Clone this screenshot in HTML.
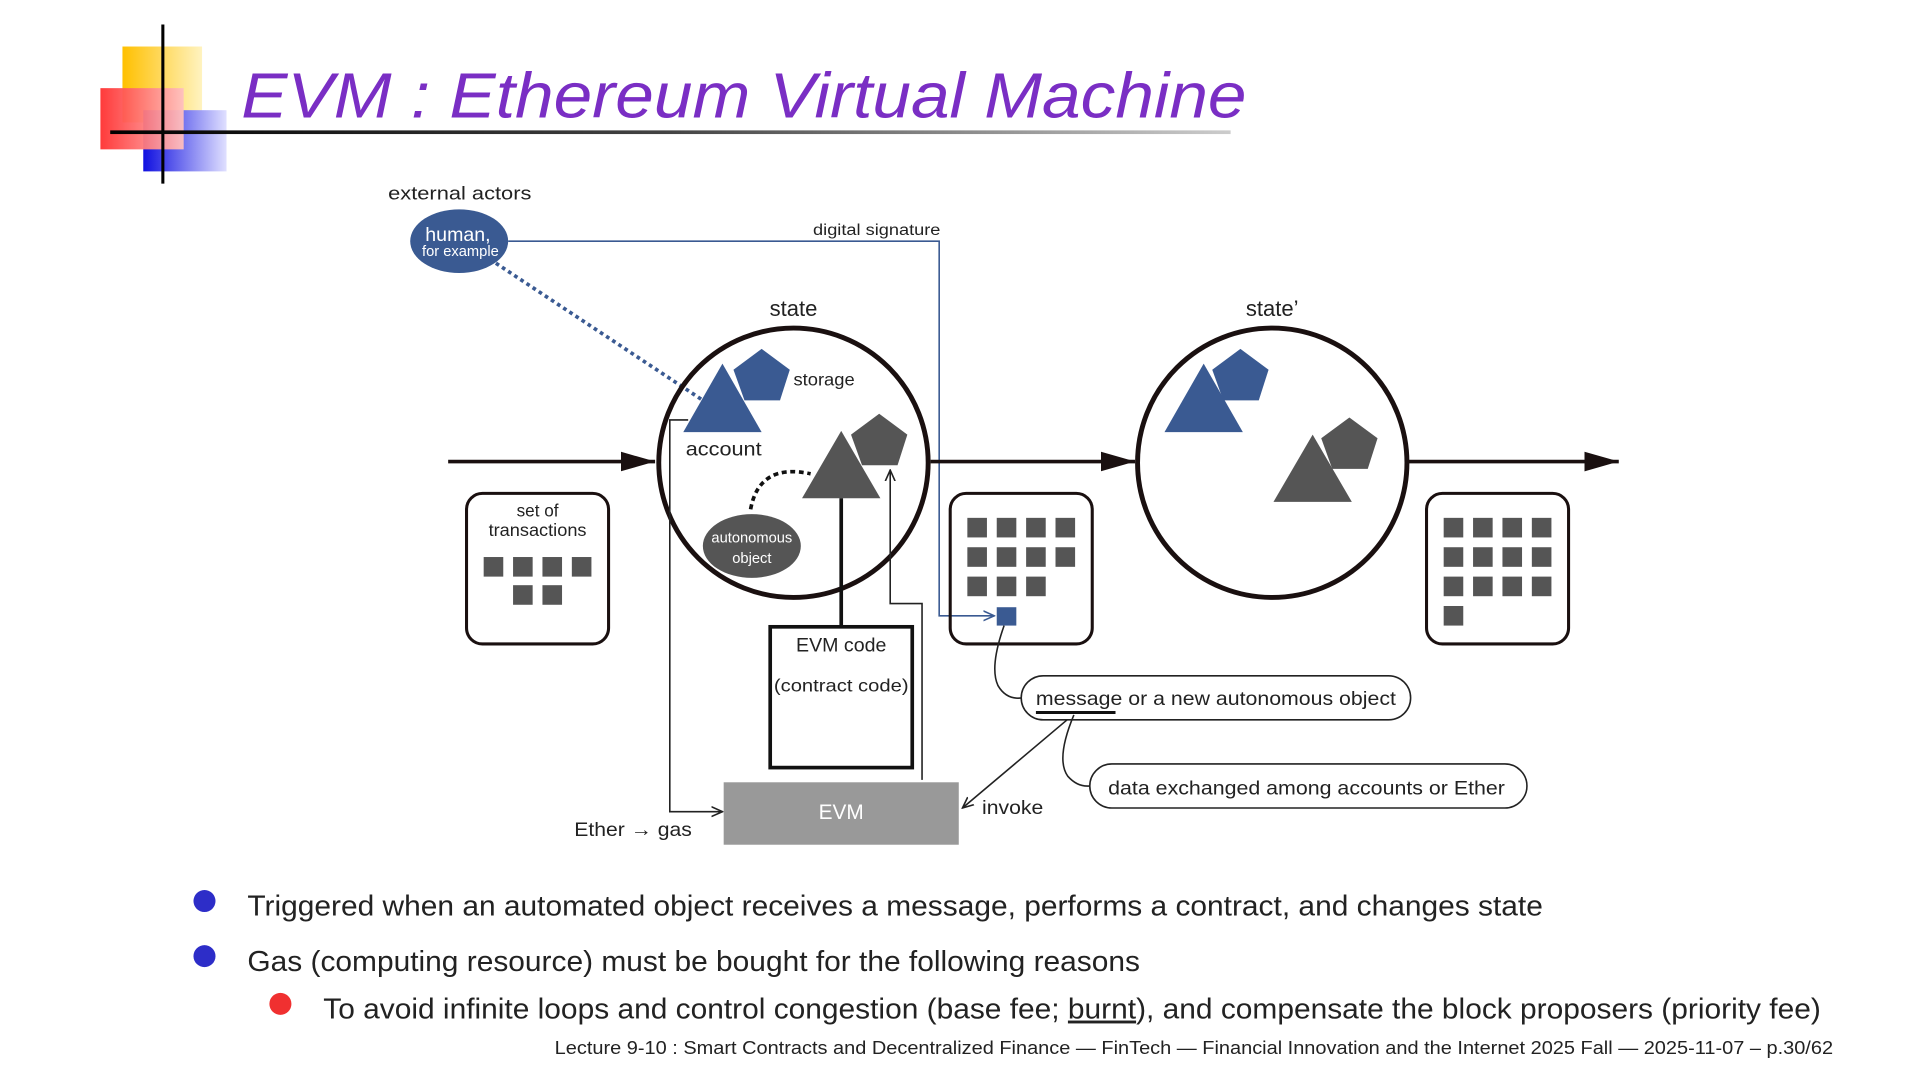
<!DOCTYPE html>
<html><head><meta charset="utf-8"><style>
html,body{margin:0;padding:0;background:#fff;}
svg{display:block;}
text{font-family:"Liberation Sans","DejaVu Sans",sans-serif;fill:#222;}
</style></head><body>
<svg width="1920" height="1081" viewBox="0 0 1568 883" preserveAspectRatio="none" xmlns="http://www.w3.org/2000/svg">
<defs>
<linearGradient id="ln" x1="0" x2="1"><stop offset="0" stop-color="#000"/><stop offset="0.5" stop-color="#444"/><stop offset="1" stop-color="#ccc"/></linearGradient>
<linearGradient id="yl" x1="0" x2="1"><stop offset="0" stop-color="#ffc000"/><stop offset="1" stop-color="#fff3c0"/></linearGradient>
<linearGradient id="rd" x1="0" x2="1"><stop offset="0" stop-color="#ff3030"/><stop offset="1" stop-color="#ffc0c0"/></linearGradient>
<linearGradient id="bl" x1="0" x2="1"><stop offset="0" stop-color="#1010e0"/><stop offset="1" stop-color="#e0e0ff"/></linearGradient>
<marker id="ah" markerWidth="10" markerHeight="10" refX="9" refY="5" orient="auto" markerUnits="userSpaceOnUse"><path d="M0,1 L9,5 L0,9" fill="none" stroke="#222" stroke-width="1.3"/></marker>
<marker id="ahb" markerWidth="10" markerHeight="10" refX="9" refY="5" orient="auto" markerUnits="userSpaceOnUse"><path d="M0,1 L9,5 L0,9" fill="none" stroke="#3a5a92" stroke-width="1.3"/></marker>
<marker id="big" markerWidth="30" markerHeight="20" refX="28" refY="8" orient="auto" markerUnits="userSpaceOnUse"><path d="M0,0 L28,8 L0,16 Z" fill="#1a1010"/></marker>
</defs>
<!-- logo -->
<rect x="100" y="38" width="65" height="62" fill="url(#yl)"/>
<rect x="117" y="90" width="68" height="50" fill="url(#bl)"/>
<rect x="82" y="72" width="68" height="50" fill="url(#rd)" opacity="0.95"/>
<line x1="133" y1="20" x2="133" y2="150" stroke="#000" stroke-width="2.5"/>
<rect x="90" y="106.5" width="915" height="3" fill="url(#ln)"/>
<text x="197" y="96" font-size="52" font-style="italic" textLength="821" lengthAdjust="spacingAndGlyphs" style="fill:#7a2ec4">EVM : Ethereum Virtual Machine</text>

<!-- diagram -->
<text x="317" y="163" font-size="15" textLength="117" lengthAdjust="spacingAndGlyphs">external actors</text>
<polyline points="415,197 767,197 767,503 812,503" fill="none" stroke="#3a5a92" stroke-width="1.3" marker-end="url(#ahb)"/>
<text x="664" y="192" font-size="13" textLength="104" lengthAdjust="spacingAndGlyphs">digital signature</text>
<line x1="405" y1="215" x2="574" y2="327" stroke="#3a5a92" stroke-width="3" stroke-dasharray="3,3"/>
<ellipse cx="375" cy="197" rx="40" ry="26" fill="#3a5a92"/>
<text x="374" y="197" font-size="16" text-anchor="middle" style="fill:#fff">human,</text>
<text x="376" y="209" font-size="12" text-anchor="middle" style="fill:#fff">for example</text>

<line x1="366" y1="377" x2="535" y2="377" stroke="#1a1010" stroke-width="3" marker-end="url(#big)"/>
<line x1="760" y1="377" x2="927" y2="377" stroke="#1a1010" stroke-width="3" marker-end="url(#big)"/>
<line x1="1150" y1="377" x2="1322" y2="377" stroke="#1a1010" stroke-width="3" marker-end="url(#big)"/>

<text x="648" y="258" font-size="18" text-anchor="middle">state</text>
<text x="1039" y="258" font-size="18" text-anchor="middle">state’</text>
<circle cx="648" cy="378" r="110" fill="none" stroke="#1a1010" stroke-width="4"/>
<circle cx="1039" cy="378" r="110" fill="none" stroke="#1a1010" stroke-width="4"/>

<polygon points="622,285 645,302 637,327 608,327 599,302" fill="#3a5a92"/>
<polygon points="558,353 590,297 622,353" fill="#3a5a92"/>
<text x="648" y="315" font-size="14" textLength="50" lengthAdjust="spacingAndGlyphs">storage</text>
<text x="560" y="372" font-size="16" textLength="62" lengthAdjust="spacingAndGlyphs">account</text>
<polygon points="718,338 741,355 733,380 704,380 695,355" fill="#555"/>
<polygon points="655,407 687,352 719,407" fill="#555"/>
<path d="M613,416 Q620,378 662,387" fill="none" stroke="#111" stroke-width="3" stroke-dasharray="4,3"/>
<ellipse cx="614" cy="446" rx="40" ry="26" fill="#555"/>
<text x="614" y="443" font-size="12" text-anchor="middle" style="fill:#fff">autonomous</text>
<text x="614" y="460" font-size="12" text-anchor="middle" style="fill:#fff">object</text>

<polygon points="1013,285 1036,302 1028,327 999,327 990,302" fill="#3a5a92"/>
<polygon points="951,353 983,297 1015,353" fill="#3a5a92"/>
<polygon points="1102,341 1125,358 1117,383 1088,383 1079,358" fill="#555"/>
<polygon points="1040,410 1072,355 1104,410" fill="#555"/>

<line x1="687" y1="407" x2="687" y2="512" stroke="#111" stroke-width="3"/>
<rect x="629" y="512" width="116" height="115" fill="#fff" stroke="#111" stroke-width="3"/>
<text x="687" y="532" font-size="16" text-anchor="middle">EVM code</text>
<text x="687" y="565" font-size="14" text-anchor="middle" textLength="110" lengthAdjust="spacingAndGlyphs">(contract code)</text>
<polyline points="753,637 753,493 727,493 727,384" fill="none" stroke="#222" stroke-width="1.3" marker-end="url(#ah)"/>
<polyline points="562,343 547,343 547,663 590,663" fill="none" stroke="#222" stroke-width="1.3" marker-end="url(#ah)"/>
<rect x="591" y="639" width="192" height="51" fill="#999"/>
<text x="687" y="669" font-size="17" text-anchor="middle" style="fill:#fff">EVM</text>
<text x="469" y="683" font-size="16" textLength="96" lengthAdjust="spacingAndGlyphs">Ether → gas</text>
<line x1="875" y1="585" x2="786" y2="660" stroke="#222" stroke-width="1.3" marker-end="url(#ah)"/>
<text x="802" y="665" font-size="16" textLength="50" lengthAdjust="spacingAndGlyphs">invoke</text>

<!-- boxes -->
<rect x="381" y="403" width="116" height="123" rx="13" fill="none" stroke="#1a1010" stroke-width="2.5"/>
<text x="439" y="422" font-size="14" text-anchor="middle">set of</text>
<text x="439" y="438" font-size="14" text-anchor="middle" textLength="80" lengthAdjust="spacingAndGlyphs">transactions</text>
<g fill="#555">
<rect x="395" y="455" width="16" height="16"/><rect x="419" y="455" width="16" height="16"/><rect x="443" y="455" width="16" height="16"/><rect x="467" y="455" width="16" height="16"/>
<rect x="419" y="478" width="16" height="16"/><rect x="443" y="478" width="16" height="16"/>
</g>
<rect x="776" y="403" width="116" height="123" rx="13" fill="none" stroke="#1a1010" stroke-width="2.5"/>
<g fill="#555">
<rect x="790" y="423" width="16" height="16"/><rect x="814" y="423" width="16" height="16"/><rect x="838" y="423" width="16" height="16"/><rect x="862" y="423" width="16" height="16"/>
<rect x="790" y="447" width="16" height="16"/><rect x="814" y="447" width="16" height="16"/><rect x="838" y="447" width="16" height="16"/><rect x="862" y="447" width="16" height="16"/>
<rect x="790" y="471" width="16" height="16"/><rect x="814" y="471" width="16" height="16"/><rect x="838" y="471" width="16" height="16"/>
</g>
<rect x="814" y="496" width="16" height="15" fill="#3a5a92"/>
<rect x="1165" y="403" width="116" height="123" rx="13" fill="none" stroke="#1a1010" stroke-width="2.5"/>
<g fill="#555">
<rect x="1179" y="423" width="16" height="16"/><rect x="1203" y="423" width="16" height="16"/><rect x="1227" y="423" width="16" height="16"/><rect x="1251" y="423" width="16" height="16"/>
<rect x="1179" y="447" width="16" height="16"/><rect x="1203" y="447" width="16" height="16"/><rect x="1227" y="447" width="16" height="16"/><rect x="1251" y="447" width="16" height="16"/>
<rect x="1179" y="471" width="16" height="16"/><rect x="1203" y="471" width="16" height="16"/><rect x="1227" y="471" width="16" height="16"/><rect x="1251" y="471" width="16" height="16"/>
<rect x="1179" y="495" width="16" height="16"/>
</g>

<path d="M820,511 Q808,545 815,560 Q822,572 835,570" fill="none" stroke="#222" stroke-width="1.3"/>
<rect x="834" y="552" width="318" height="36" rx="18" fill="#fff" stroke="#222" stroke-width="1.3"/>
<text x="846" y="576" font-size="16" textLength="294" lengthAdjust="spacingAndGlyphs">message or a new autonomous object</text>
<line x1="846" y1="582" x2="911" y2="582" stroke="#111" stroke-width="2.5"/>
<path d="M877,584 Q862,620 872,634 Q880,643 890,642" fill="none" stroke="#222" stroke-width="1.3"/>
<rect x="890" y="624" width="357" height="36" rx="18" fill="#fff" stroke="#222" stroke-width="1.3"/>
<text x="905" y="649" font-size="16" textLength="324" lengthAdjust="spacingAndGlyphs">data exchanged among accounts or Ether</text>

<!-- bullets -->
<circle cx="167" cy="736" r="9" fill="#2d2dc8"/>
<text x="202" y="748" font-size="23.5" textLength="1058" lengthAdjust="spacingAndGlyphs">Triggered when an automated object receives a message, performs a contract, and changes state</text>
<circle cx="167" cy="781" r="9" fill="#2d2dc8"/>
<text x="202" y="793" font-size="23.5" textLength="729" lengthAdjust="spacingAndGlyphs">Gas (computing resource) must be bought for the following reasons</text>
<circle cx="229" cy="820" r="9" fill="#f03030"/>
<text x="264" y="832" font-size="23.5" textLength="1223" lengthAdjust="spacingAndGlyphs">To avoid infinite loops and control congestion (base fee; <tspan text-decoration="underline">burnt</tspan>), and compensate the block proposers (priority fee)</text>
<text x="453" y="861" font-size="15" textLength="1044" lengthAdjust="spacingAndGlyphs">Lecture 9-10 : Smart Contracts and Decentralized Finance — FinTech — Financial Innovation and the Internet 2025 Fall — 2025-11-07 – p.30/62</text>
</svg>
</body></html>
